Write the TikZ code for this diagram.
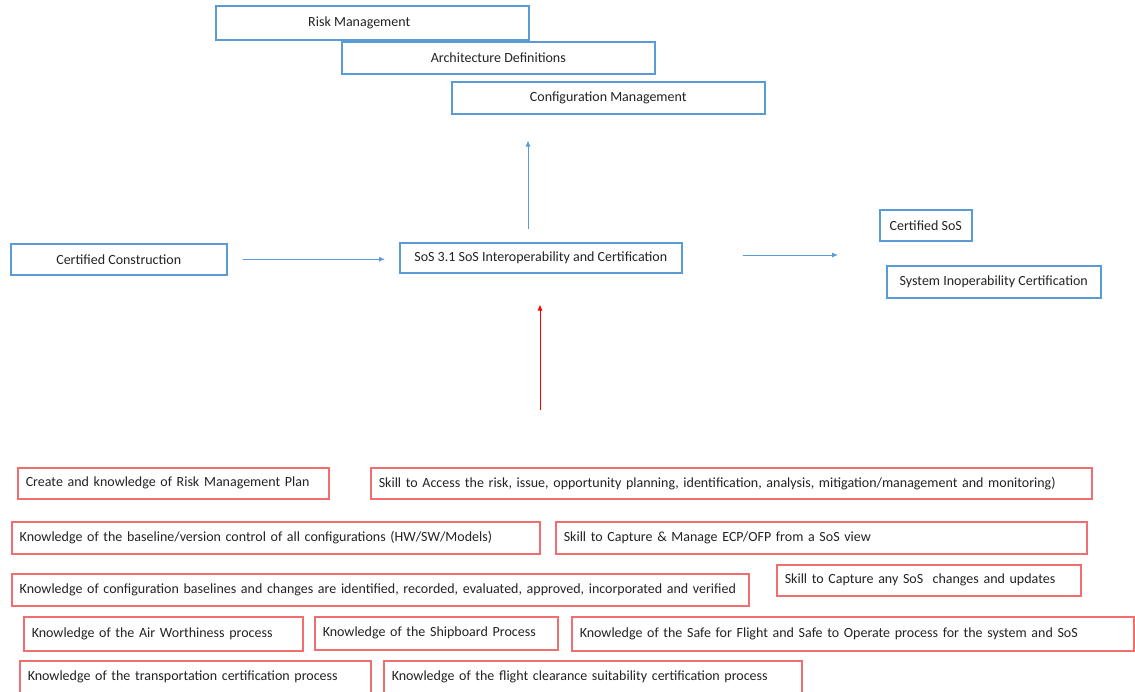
\documentclass[tikz,border=0pt]{standalone}
\usepackage{fontspec}
\setmainfont{Carlito}
\usetikzlibrary{arrows.meta}
\definecolor{bbox}{RGB}{91,155,213}
\definecolor{rbox}{RGB}{240,110,110}
\definecolor{txt}{RGB}{35,35,35}
\tikzset{
  bluebox/.style={draw=bbox, line width=1.5pt, fill=white, text=txt, font=\fontsize{14}{16}\selectfont, inner sep=0pt},
  redbox/.style={draw=rbox, line width=1.5pt, fill=white, text=txt, font=\fontsize{14}{16}\selectfont, inner xsep=8pt, inner ysep=0pt, align=left, anchor=north west},
  barrow/.style={draw=bbox, line width=0.9pt, -{Latex[length=6pt,width=5pt]}},
  rarrow/.style={draw=red, line width=0.9pt, -{Latex[length=6pt,width=5pt]}}
}
\begin{document}
\begin{tikzpicture}[x=1pt,y=-1pt]
\useasboundingbox (0,0) rectangle (1135,691);
\clip (0,0) rectangle (1135,691);
% top boxes
\node[bluebox, minimum width=313pt, minimum height=34pt, anchor=north west] (rm) at (215,5) {Risk Management\kern26pt\mbox{}};
\node[bluebox, minimum width=313pt, minimum height=32pt, anchor=north west] (ad) at (341,41) {Architecture Definitions};
\node[bluebox, minimum width=313pt, minimum height=32pt, anchor=north west] (cm) at (451,81) {Configuration Management};
% middle
\node[bluebox, minimum width=216pt, minimum height=31pt, anchor=north west] (cc) at (10,243) {Certified Construction};
\node[bluebox, minimum width=282pt, minimum height=30pt, anchor=north west] (sos) at (399,242) {SoS 3.1 SoS Interoperability and Certification};
\node[bluebox, minimum width=92pt, minimum height=31pt, anchor=north west] (csos) at (879,209) {Certified SoS};
\node[bluebox, minimum width=214pt, minimum height=32pt, anchor=north west] (sic) at (886,265) {System Inoperability Certification};
% bottom boxes
\node[redbox, text width=295pt, minimum height=31pt] (b1) at (17,467) {Create and knowledge of Risk Management Plan};
\node[redbox, text width=705pt, minimum height=31pt] (b2) at (370,467) {Skill to Access the risk, issue, opportunity planning, identification, analysis, mitigation/management and monitoring)};
\node[redbox, text width=512pt, minimum height=32pt] (b3) at (11,521) {Knowledge of the baseline/version control of all configurations (HW/SW/Models)};
\node[redbox, text width=515pt, minimum height=32pt] (b4) at (555,521) {Skill to Capture \& Manage ECP/OFP from a SoS view};
\node[redbox, text width=721pt, minimum height=32pt] (b5) at (11,573) {Knowledge of configuration baselines and changes are identified, recorded, evaluated, approved, incorporated and verified};
\node[redbox, text width=288pt, minimum height=31pt] (b6) at (776,564) {Skill to Capture any SoS\ \ changes and updates};
\node[redbox, text width=263pt, minimum height=34pt] (b7) at (23,616) {Knowledge of the Air Worthiness process};
\node[redbox, text width=227pt, minimum height=33pt] (b8) at (314,616) {Knowledge of the Shipboard Process};
\node[redbox, text width=546pt, minimum height=34pt] (b9) at (571,616) {Knowledge of the Safe for Flight and Safe to Operate process for the system and SoS};
\node[redbox, text width=335pt, minimum height=32pt] (b10) at (19,660) {Knowledge of the transportation certification process};
\node[redbox, text width=402pt, minimum height=32pt] (b11) at (383,660) {Knowledge of the flight clearance suitability certification process};
% connectors
\coordinate (upx) at (528,0);
\coordinate (rx) at (540,0);
\coordinate (hy) at (0,255);
\draw[barrow, shorten <=15pt, shorten >=14pt] (cc.east) -- (cc.east -| sos.west);
\draw[barrow, shorten <=13pt, shorten >=26pt] (sos.north -| upx) -- (cm.south -| upx);
\draw[barrow, shorten <=60pt, shorten >=41pt] (sos.east |- hy) -- (csos.west |- hy);
\draw[rarrow, shorten <=57pt, shorten >=31pt] (b2.north -| rx) -- (sos.south -| rx);
\end{tikzpicture}
\end{document}
